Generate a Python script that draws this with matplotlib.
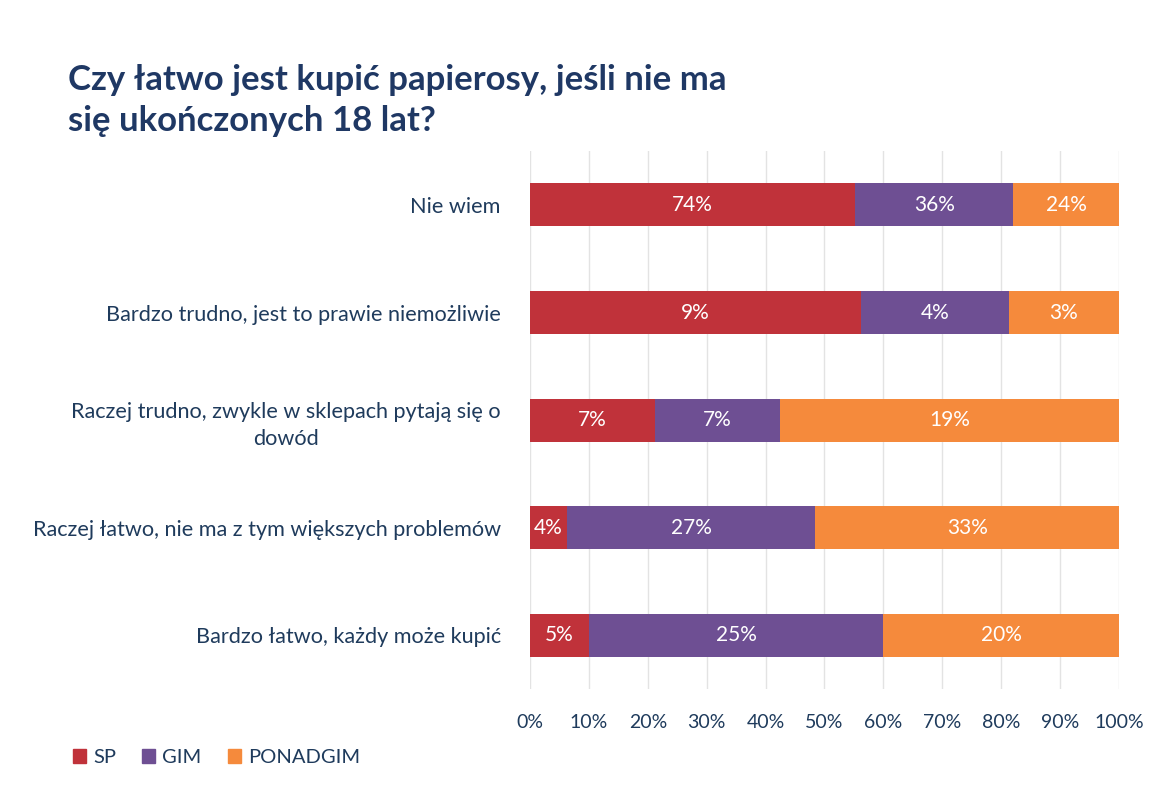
import matplotlib
matplotlib.use("Agg")
import matplotlib.pyplot as plt
import numpy as np

categories = [
    "Nie wiem",
    "Bardzo trudno, jest to prawie niemożliwie",
    "Raczej trudno, zwykle w sklepach pytają się o\ndowód",
    "Raczej łatwo, nie ma z tym większych problemów",
    "Bardzo łatwo, każdy może kupić",
]
series_names = ["SP", "GIM", "PONADGIM"]
sp = [74, 9, 7, 4, 5]
gim = [36, 4, 7, 27, 25]
ponadgim = [24, 3, 19, 33, 20]
colors = ["#C0323A", "#6E4F93", "#F58A3C"]
xticks = [0, 10, 20, 30, 40, 50, 60, 70, 80, 90, 100]

plt.rcParams['font.family'] = ['Lato', 'DejaVu Sans']
text_color = "#1F3B5C"

fig = plt.figure(figsize=(11.64, 8.0), dpi=100)
ax = fig.add_axes([0.4553, 0.1388, 0.5060, 0.6722])

data = np.array([sp, gim, ponadgim], dtype=float)
totals = data.sum(axis=0)
shares = data / totals * 100
y = np.arange(len(categories))
left = np.zeros(len(categories))
for i, name in enumerate(series_names):
    ax.barh(y, shares[i], left=left, height=0.4, color=colors[i], label=name, zorder=3)
    for j in range(len(categories)):
        ax.text(left[j] + shares[i][j] / 2, y[j], f"{int(data[i][j])}%", ha='center', va='center',
                color='white', fontsize=15, zorder=4)
    left += shares[i]

ax.set_xlim(0, 100)
ax.set_ylim(len(categories) - 0.5, -0.5)
ax.set_xticks(xticks)
ax.set_xticklabels([f"{t}%" for t in xticks], fontsize=14, color=text_color)
ax.set_yticks(y)
ax.set_yticklabels(categories, fontsize=15.6, color=text_color, multialignment='center',
                   linespacing=1.45)
ax.tick_params(axis='both', length=0)
ax.tick_params(axis='y', pad=21)
ax.tick_params(axis='x', pad=18)
ax.grid(axis='x', color='#E3E3E3', linewidth=1, zorder=0)
for s in ax.spines.values():
    s.set_visible(False)

fig.text(0.058, 0.92, "Czy łatwo jest kupić papierosy, jeśli nie ma\nsię ukończonych 18 lat?",
         fontsize=25, fontweight='bold', color="#1F3864", ha='left', va='top', linespacing=1.35)

handles = [plt.Rectangle((0, 0), 1, 1, color=c) for c in colors]
fig.legend(handles, series_names, loc='center left', bbox_to_anchor=(0.047, 0.053), ncol=3,
           frameon=False, fontsize=14.5, handlelength=0.65, handleheight=0.65, handletextpad=0.35,
           columnspacing=1.3, labelcolor=text_color)

fig.savefig("out.png", dpi=100, facecolor='white')
